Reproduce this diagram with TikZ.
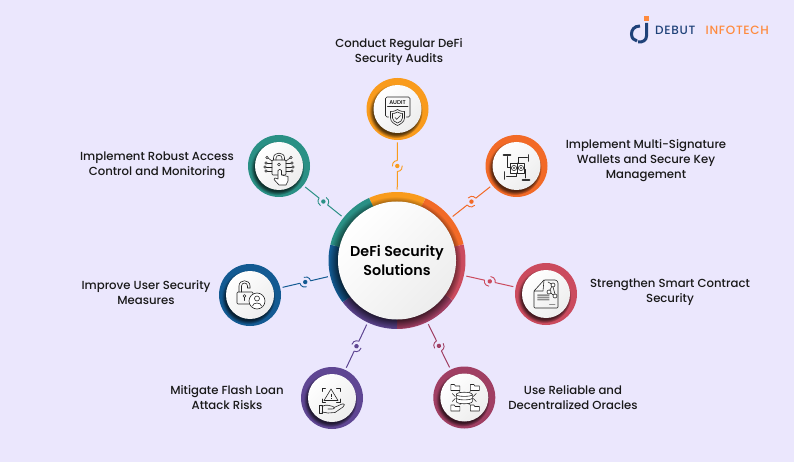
\documentclass[tikz,border=0pt]{standalone}
\usepackage{fontspec}
\setmainfont{Poppins}
\newfontfamily\mediumfont{Poppins Medium}
\newfontfamily\boldishfont{Poppins SemiBold}
\newfontfamily\logofont[LetterSpace=6]{Poppins Medium}
\usetikzlibrary{arrows.meta,shadows,fadings,positioning}
\definecolor{pagebg}{HTML}{EBE7FD}
\definecolor{auditcol}{HTML}{F99B1C}
\definecolor{keycol}{HTML}{F26A27}
\definecolor{smartcol}{HTML}{CB4B5E}
\definecolor{oraclecol}{HTML}{A03F63}
\definecolor{flashcol}{HTML}{5F4693}
\definecolor{usercol}{HTML}{135A92}
\definecolor{accesscol}{HTML}{2A9085}
\definecolor{logonavy}{HTML}{1F4279}
\definecolor{logoorange}{HTML}{FF8A3D}
\begin{document}
\begin{tikzpicture}[
  x=1pt, y=-1pt,
  hubring/.style={circle, minimum size=137pt, inner sep=0pt, outer sep=2.5pt},
  ringpart/.style={line width=10pt, color=#1},
  satellite/.style={circle, fill=#1, minimum size=62pt, inner sep=0pt, outer sep=2.5pt},
  disc/.style={circle, inner sep=0pt, minimum size=#1, left color=white, right color=black!7, shading angle=45,
    circular drop shadow={shadow xshift=-1.5pt, shadow yshift=-2pt, shadow scale=1.12, opacity=.65, fill=black}},
  spoke/.style={line width=1pt, color=#1},
  label/.style={font=\mediumfont\fontsize{11.7pt}{15pt}\selectfont, align=center, inner sep=0pt, text=black!90},
  icon/.style={line width=.6pt, color=black!85, line join=round, line cap=round},
  pics/jointmark/.style={code={
    \fill[pagebg] (0,0) circle (5.5pt);
    \fill (0,0) circle (2.2pt);
    \draw[line width=.9pt] (5.5pt,0) arc[start angle=0, end angle=100, radius=5pt];
    \draw[line width=.9pt] (-5.5pt,0) arc[start angle=180, end angle=280, radius=5pt];
  }},
  pics/folder/.style={code={
    \draw[icon, fill=white] (-4.5,-3) -- (-1,-3) -- (0,-1.5) -- (4.5,-1.5) -- (4.5,3) -- (-4.5,3) -- cycle;
  }}
]
  \useasboundingbox[fill=pagebg] (0,0) rectangle (794,462);

  % Outer rings
  \node[hubring] (hub) at (397,260.5) {};
  \node[satellite=auditcol] (audit) at (397.5,109) {};
  \node[satellite=keycol] (multisig) at (516.5,166) {};
  \node[satellite=smartcol] (smart) at (546,294) {};
  \node[satellite=oraclecol] (oracle) at (464.3,397.5) {};
  \node[satellite=flashcol] (flash) at (332,398) {};
  \node[satellite=usercol] (user) at (250,295) {};
  \node[satellite=accesscol] (access) at (279,166) {};

  % Ring of the hub, one arc per solution
  \begin{scope}[shift={(hub)}, x=1pt, y=1pt]
    \draw[ringpart=auditcol] (114:63.5) arc[start angle=114, end angle=65.5, radius=63.5];
    \draw[ringpart=keycol] (65.5:63.5) arc[start angle=65.5, end angle=13.6, radius=63.5];
    \draw[ringpart=smartcol] (13.6:63.5) arc[start angle=13.6, end angle=-35.5, radius=63.5];
    \draw[ringpart=oraclecol] (-35.5:63.5) arc[start angle=-35.5, end angle=-90, radius=63.5];
    \draw[ringpart=flashcol] (-90:63.5) arc[start angle=-90, end angle=-142.4, radius=63.5];
    \draw[ringpart=usercol] (-142.4:63.5) arc[start angle=-142.4, end angle=-193.4, radius=63.5];
    \draw[ringpart=accesscol] (166.6:63.5) arc[start angle=166.6, end angle=114, radius=63.5];
  \end{scope}

  % Connectors
  \draw[spoke=auditcol] (hub) -- pic[sloped]{jointmark} (audit);
  \draw[spoke=keycol] (hub) -- pic[sloped]{jointmark} (multisig);
  \draw[spoke=smartcol] (hub) -- pic[sloped]{jointmark} (smart);
  \draw[spoke=oraclecol] (hub) -- pic[sloped]{jointmark} (oracle);
  \draw[spoke=flashcol] (hub) -- pic[sloped]{jointmark} (flash);
  \draw[spoke=usercol] (hub) -- pic[sloped]{jointmark} (user);
  \draw[spoke=accesscol] (hub) -- pic[sloped]{jointmark} (access);

  % White discs
  \node[disc=118pt, font=\boldishfont\fontsize{14.3pt}{19pt}\selectfont, align=center] (hubdisc) at (397,260.5) {DeFi Security\\Solutions};
  \node[disc=48pt] (auditdisc) at (audit) {};
  \node[disc=48pt] (multisigdisc) at (multisig) {};
  \node[disc=48pt] (smartdisc) at (smart) {};
  \node[disc=48pt] (oracledisc) at (oracle) {};
  \node[disc=48pt] (flashdisc) at (flash) {};
  \node[disc=48pt] (userdisc) at (user) {};
  \node[disc=48pt] (accessdisc) at (access) {};

  % Labels
  \node[label] (auditlabel) at (399,52.5) {Conduct Regular DeFi\\Security Audits};
  \node[label] (multisiglabel) at (646,161) {Implement Multi-Signature\\Wallets and Secure Key\\Management};
  \node[label] (smartlabel) at (670,292.5) {Strengthen Smart Contract\\Security};
  \node[label] (oraclelabel) at (573,397.5) {Use Reliable and\\Decentralized Oracles};
  \node[label] (flashlabel) at (227,397.5) {Mitigate Flash Loan\\Attack Risks};
  \node[label] (userlabel) at (146,292.5) {Improve User Security\\Measures};
  \node[label] (accesslabel) at (157,165.5) {Implement Robust Access\\Control and Monitoring};

  % Audit icon
  \begin{scope}[shift={(audit)}]
    \draw[icon, rounded corners=1.5pt] (-9,8) -- (-12,8) -- (-12,-12) -- (12.5,-12) -- (12.5,8) -- (9,8);
    \node[font=\mediumfont\fontsize{5.6pt}{6pt}\selectfont, inner sep=0pt] (audittext) at (0,-6.8) {AUDIT};
    \draw[icon] (-10,-2.5) -- (10.5,-2.5);
    \draw[icon] (0,0.5) .. controls (3,2.5) and (5,2.5) .. (7,2.5) -- (7,9) .. controls (7,13) and (3,15) .. (0,16.5) .. controls (-3,15) and (-7,13) .. (-7,9) -- (-7,2.5) .. controls (-5,2.5) and (-3,2.5) .. (0,0.5) -- cycle;
    \draw[icon] (0,3) .. controls (2,4.3) and (3.5,4.5) .. (5,4.5) -- (5,9) .. controls (5,11.5) and (2.5,13) .. (0,14) .. controls (-2.5,13) and (-5,11.5) .. (-5,9) -- (-5,4.5) .. controls (-3.5,4.5) and (-2,4.3) .. (0,3) -- cycle;
    \draw[icon] (-2.5,8.5) -- (-.8,10.3) -- (3,6.5);
  \end{scope}

  % Multi-signature icon
  \begin{scope}[shift={(multisig)}]
    \draw[icon, fill=white] (-6,-3) rectangle (8,7);
    \draw[icon] (-2.5,2) circle (2.6pt) (4.5,2) circle (2.6pt);
    \draw[icon] (1,-3) -- (1,7);
    \fill[black!70] (-2.5,2) circle (1.2pt) (4.5,2) circle (1.2pt);
    \draw[icon] (-9,-9.5) -- (-9,1) -- (-6,1);
    \draw[icon] (11,-9) -- (2,-9) -- (2,-3);
    \draw[icon] (-10,10) -- (0,10) -- (0,7);
    \draw[icon] (9,12) -- (9,3) -- (8,3);
    \draw[line width=1.7pt, black!80, line cap=round] (-13,-11) -- (-6,-11);
    \draw[line width=1.7pt, black!80, line cap=round] (12,-11) -- (12,-5);
    \draw[line width=1.7pt, black!80, line cap=round] (-12,6) -- (-12,13);
    \draw[line width=1.7pt, black!80, line cap=round] (6,14) -- (13,14);
  \end{scope}

  % Smart contract icon
  \begin{scope}[shift={(smart)}]
    \draw[icon, rounded corners=1pt] (-2,-14) -- (10,-14) -- (12,-12) -- (12,14) -- (-12,14) -- (-12,-3) -- cycle;
    \draw[icon] (-12,-3) -- (-3,-3) -- (-2,-14);
    \draw[icon, fill=white] (7,-9) circle (2pt) (3,-2) circle (2pt) (9,2) circle (2pt);
    \draw[icon] (2,-12) -- (5.5,-10) (5.8,-7.5) -- (3.8,-3.8) (4.8,-1) -- (7.2,1) (7,-7) -- (9,.2);
    \fill[black!45] (-8.7,.3) rectangle (3.3,1.8) (-8.7,2.6) rectangle (3.3,4.1) (-8.7,4.9) rectangle (3.3,6.4);
    \draw[icon, black!45] (3.5,10) -- (9,10);
  \end{scope}

  % Oracle icon
  \begin{scope}[shift={(oracle)}]
    \pic at (-9,-10) {folder};
    \pic at (10.5,-10) {folder};
    \pic at (-9,10.5) {folder};
    \pic at (10.5,10.5) {folder};
    \draw[icon, -{Stealth[length=2pt]}] (-5,-6) -- (-2,-3);
    \draw[icon, -{Stealth[length=2pt]}] (6,-6) -- (3,-3);
    \draw[icon, -{Stealth[length=2pt]}] (-2,5) -- (-5,7);
    \draw[icon, -{Stealth[length=2pt]}] (3,5) -- (6,7);
    \draw[icon] (-9,-1) -- (-12,-4) (9,-1) -- (12,-4) (-9,1) -- (-12,4) (9,1) -- (12,4);
    \draw[icon, fill=white] (-8,-3) .. controls (-8,-6) and (8,-6) .. (8,-3) -- (8,4) .. controls (8,7) and (-8,7) .. (-8,4) -- cycle;
    \draw[icon] (-8,-3) .. controls (-8,-.5) and (8,-.5) .. (8,-3);
    \draw[icon] (-8,.5) .. controls (-8,3) and (8,3) .. (8,.5);
  \end{scope}

  % Flash loan icon
  \begin{scope}[shift={(flash)}]
    \draw[icon] (-1,-9) -- (6,2.5) -- (-8,2.5) -- cycle;
    \draw[line width=.9pt, black!85] (-1,-4.5) -- (-1,-.8) (-1,.3) -- (-1,1.3);
    \draw[icon] (-10,-6.5) -- (-10,-10) -- (-6.5,-10) (4.5,-10) -- (8,-10) -- (8,-6.5) (-10,1) -- (-10,4.5) -- (-6.5,4.5) (4.5,4.5) -- (8,4.5) -- (8,1);
    \draw[icon] (-13,7.5) rectangle (-10,15);
    \draw[icon] (-10,8.5) .. controls (-6,6) and (-3,7.5) .. (1,8.5) .. controls (3,9) and (3,11) .. (0,11) -- (-4,11);
    \draw[icon] (2,9.5) -- (10,6) .. controls (13,5.5) and (13,7.5) .. (11,9) -- (3,14.5) -- (-4,15) -- (-10,14);
  \end{scope}

  % User security icon
  \begin{scope}[shift={(user)}]
    \draw[icon] (-11,-3) -- (-11,-9) .. controls (-11,-16) and (0,-16) .. (0,-9) -- (0,-7);
    \draw[icon] (-8.5,-3) -- (-8.5,-9) .. controls (-8.5,-13) and (-2.5,-13) .. (-2.5,-9) -- (-2.5,-7) -- (0,-7);
    \draw[icon, rounded corners=1pt] (-13,-3) rectangle (3,9);
    \draw[icon] (-5.5,1) circle (1.5pt) (-5.5,2.5) -- (-5.5,5.5);
    \draw[icon, fill=white] (7,6) circle (8pt);
    \draw[icon] (7,3.5) circle (2.5pt);
    \draw[icon] (2.5,11) .. controls (3,7) and (11,7) .. (11.5,11);
  \end{scope}

  % Access control icon
  \begin{scope}[shift={(access)}]
    \draw[icon] (-5.5,-6) -- (-5.5,-8) .. controls (-5.5,-14.5) and (5.5,-14.5) .. (5.5,-8) -- (5.5,-6);
    \draw[icon] (-3,-6) -- (-3,-8) .. controls (-3,-11.5) and (3,-11.5) .. (3,-8) -- (3,-6);
    \draw[icon, rounded corners=1pt] (-7,-6) rectangle (7,9);
    \draw[icon] (0,-1.5) circle (1.5pt);
    \draw[icon] (-7,-3) -- (-12,-3) (-7,1) -- (-13,1) (-7,5) -- (-12,5) (7,-3) -- (12,-3) (7,1) -- (13,1) (7,5) -- (12,5);
    \draw[icon] (-7,-5) -- (-11,-8) (7,-5) -- (11,-8);
    \draw[icon, fill=white] (-13,-3) circle (1.3pt) (-14,1) circle (1.3pt) (-13,5) circle (1.3pt) (13,-3) circle (1.3pt) (14,1) circle (1.3pt) (13,5) circle (1.3pt) (-12,-8.5) circle (1.3pt) (12,-8.5) circle (1.3pt);
    \draw[icon, fill=white] (-1,13) -- (-1,4.5) .. controls (-1,3) and (2.5,3) .. (2.5,4.5) -- (2.5,9) -- (9,10.5) -- (9,15) -- (7,19) -- (0,19) -- (-5,13.5) -- (-4,12) -- cycle;
  \end{scope}

  % Logo
  \fill[logoorange] (644,16) rectangle (649,21);
  \draw[logonavy, line width=3pt] (640,26) .. controls (634,26) and (631.5,30) .. (631.5,34) .. controls (631.5,38) and (634,40.5) .. (637,41);
  \draw[logonavy, line width=3pt] (646.5,23) -- (646.5,36) .. controls (646.5,40) and (643,42.5) .. (638,42);
  \node[font=\logofont\fontsize{12pt}{12pt}\selectfont, text=logonavy, inner sep=0pt, anchor=west] (logodebut) at (655,30) {DEBUT};
  \node[font=\logofont\fontsize{12pt}{12pt}\selectfont, text=logoorange, inner sep=0pt, anchor=west] (logoinfo) at (705.5,30) {INFOTECH};
\end{tikzpicture}
\end{document}
